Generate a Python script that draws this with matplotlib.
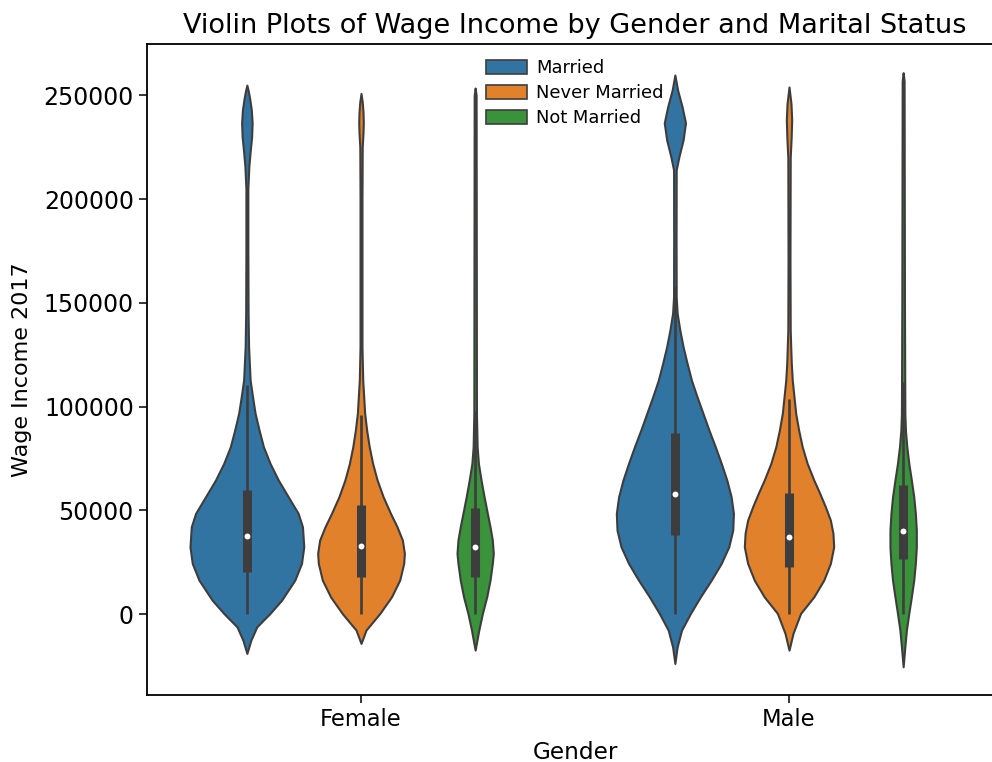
import matplotlib
matplotlib.use("Agg")
import matplotlib.pyplot as plt
from matplotlib.patches import Patch

# categories
genders = ['Female', 'Male']
statuses = ['Married', 'Never Married', 'Not Married']
colors = ['#3274a1', '#e1812c', '#3a923a']

# violin outlines: wage values and relative density width
f_married_y = [-18950, -12540, -6120, 340, 6750, 16400, 24450, 32450, 42100, 48560, 56560, 64600,
               72700, 80700, 88700, 96800, 104800, 112800, 128900, 145000, 175000, 205000, 216000,
               224000, 230000, 236800, 243000, 248000, 252000, 255000]
f_married_w = [0, .07, .174, .405, .609, .84, .957, .997, .974, .899, .725, .551,
               .405, .29, .214, .144, .099, .057, .03, .021, .017, .017, .035,
               .061, .083, .092, .078, .052, .026, 0]

f_never_y = [-14130, -7700, 340, 8340, 16400, 24450, 29270, 35680, 42100, 48560, 56560, 64600,
             72700, 80700, 88700, 96800, 104800, 112800, 128900, 160000, 200000, 225000, 232000,
             237000, 242000, 247000, 251000]
f_never_w = [0, .087, .33, .534, .678, .748, .76, .725, .631, .517, .388, .283,
             .203, .144, .099, .064, .047, .03, .017, .017, .017, .021, .035,
             .04, .035, .021, 0]

f_not_y = [-17360, -7700, 340, 8340, 16400, 24450, 29270, 35680, 42100, 48560, 56560, 64600,
           72700, 80700, 96800, 150000, 250000, 253600]
f_not_w = [0, .064, .127, .203, .261, .301, .318, .301, .261, .214, .157, .104,
           .057, .035, .023, .021, .017, 0]

m_married_y = [-23800, -15770, -7700, 340, 8340, 16400, 24450, 32450, 40500, 48560, 56560, 64600,
               72700, 80700, 88700, 96800, 104800, 112800, 120900, 128900, 136900, 145000, 153000,
               180000, 214100, 220400, 228600, 236800, 244500, 252700, 259900]
m_married_w = [0, .04, .117, .273, .447, .638, .812, .944, 1.014, 1.026, .986, .91,
               .812, .708, .597, .492, .388, .29, .214, .144, .087, .04, .023,
               .021, .023, .07, .144, .186, .127, .047, 0]

m_never_y = [-17360, -9300, 340, 8340, 16400, 24450, 32450, 38900, 45300, 51700, 58200, 64600,
             72700, 80700, 88700, 96800, 104800, 112800, 120900, 128900, 136900, 170000, 220000,
             230000, 238200, 246000, 254100]
m_never_w = [0, .07, .203, .435, .609, .725, .783, .77, .725, .638, .539, .435,
             .318, .231, .169, .117, .087, .057, .04, .03, .021, .017, .021,
             .038, .047, .035, 0]

m_not_y = [-25400, -15770, -7700, 340, 8340, 16400, 24450, 32450, 40500, 48560, 56560, 64600,
           72700, 80700, 88700, 96800, 150000, 257000, 261000]
m_not_w = [0, .03, .057, .099, .144, .186, .214, .231, .231, .214, .186, .144,
           .099, .064, .04, .03, .023, .017, 0]

# inner box stats, order: Female (M, NM, NotM), Male (M, NM, NotM)
whisk_lo = [0, 0, 0, 0, 0, 0]
q1 = [20400, 18000, 18000, 38100, 22500, 26400]
median = [37600, 32800, 32200, 57900, 37300, 40000]
q3 = [59800, 52600, 51000, 87100, 58200, 62200]
whisk_hi = [110400, 96000, 98000, 158000, 103700, 112000]

profiles = [(f_married_y, f_married_w), (f_never_y, f_never_w), (f_not_y, f_not_w),
            (m_married_y, m_married_w), (m_never_y, m_never_w), (m_not_y, m_not_w)]

fig = plt.figure(figsize=(9.92, 7.62), dpi=100)
ax = fig.add_axes([0.1482, 0.0879, 0.8629, 0.8543])

gray = '#3d3d3d'
group_w = 0.8 / len(statuses)
half = group_w / 2

k = 0
for i, g in enumerate(genders):
    for j, s in enumerate(statuses):
        xc = i + (j - 1) * group_w
        ys, ws = profiles[k]
        left = [xc - w * half for w in ws]
        right = [xc + w * half for w in ws]
        ax.fill_betweenx(ys, left, right, facecolor=colors[j], edgecolor=gray,
                         linewidth=1.5, zorder=2)
        ax.vlines(xc, whisk_lo[k], whisk_hi[k], color=gray, linewidth=1.9, zorder=3)
        ax.vlines(xc, q1[k], q3[k], color=gray, linewidth=6.5, zorder=3)
        ax.scatter([xc], [median[k]], s=18, color='white', zorder=4, linewidths=0)
        k += 1

ax.set_xlim(-0.5, 1.5)
ax.set_ylim(-39000, 274800)
ax.set_xticks(range(len(genders)))
ax.set_xticklabels(genders, fontsize=16.3)
ax.set_yticks([0, 50000, 100000, 150000, 200000, 250000])
ax.tick_params(axis='y', labelsize=17)
ax.tick_params(length=6, width=1.1)
for sp in ax.spines.values():
    sp.set_linewidth(1.3)

ax.set_xlabel('Gender', fontsize=16.7, labelpad=7)
ax.set_ylabel('Wage Income 2017', fontsize=16, labelpad=8)
ax.set_title('Violin Plots of Wage Income by Gender and Marital Status', fontsize=19.5, pad=8)

handles = [Patch(facecolor=c, edgecolor=gray, linewidth=1.2) for c in colors]
ax.legend(handles, statuses, loc='upper center', frameon=False, fontsize=12.9,
          handlelength=2.3, handleheight=0.8, labelspacing=0.38, handletextpad=0.5,
          borderaxespad=0.45)

fig.savefig('out.png', dpi=100)
